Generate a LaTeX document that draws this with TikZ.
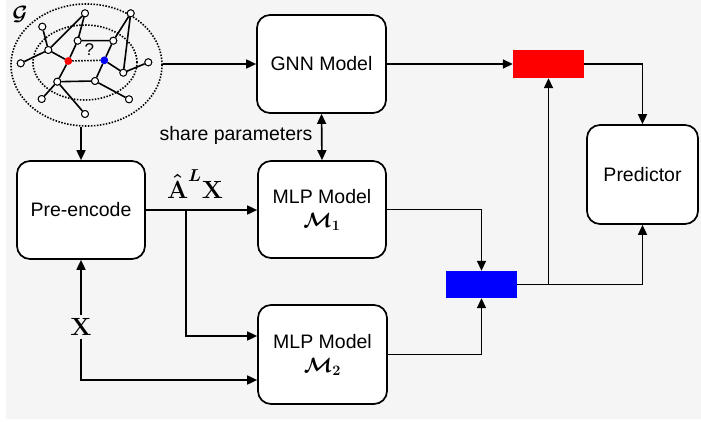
\documentclass[tikz,border=0pt]{standalone}
\usepackage{amsmath}
\usepackage{bm}
\usepackage[no-math]{fontspec}
\setmainfont{Liberation Sans}
\usetikzlibrary{arrows.meta,calc,shapes.geometric}
\definecolor{bg}{HTML}{F5F5F5}
\definecolor{myred}{HTML}{FF0000}
\definecolor{myblue}{HTML}{0000FF}
\begin{document}
\begin{tikzpicture}[x=1pt,y=-1pt,
  box/.style={draw=black, line width=1.7pt, fill=white, rounded corners=13pt, inner sep=0pt, align=center, font=\fontsize{19.5}{24}\selectfont},
  conn/.style={line width=1.7pt, -{Triangle[length=10pt,width=9pt]}},
  dconn/.style={line width=1.7pt, {Triangle[length=10pt,width=9pt]}-{Triangle[length=10pt,width=9pt]}},
  gedge/.style={line width=1.6pt},
  gv/.style={circle, draw=black, line width=0.9pt, fill=white, inner sep=0pt, minimum size=7pt},
  gc/.style={circle, draw=none, inner sep=0pt, minimum size=7.5pt},
  dots/.style={line width=1.6pt, dash pattern=on 1.5pt off 1.5pt},
  mathlbl/.style={font=\fontsize{23}{26}\selectfont},
  txt/.style={font=\fontsize{19.5}{24}\selectfont}]
\useasboundingbox (0,0) rectangle (701,422);
\fill[bg] (6,0) rectangle (701,419);

% graph
\node[ellipse, draw=black, dots, minimum width=151pt, minimum height=122pt, inner sep=0pt] (gouter) at (86.5,65) {};
\draw[dots] (85,62.5) ellipse [x radius=52pt, y radius=37.5pt];
\node[gc, fill=myred] (vr) at (68.3,61) {};
\node[gc, fill=myblue] (vb) at (104.3,60.3) {};
\node[gv] (a) at (77.7,40.7) {};
\node[gv] (b) at (113.3,40.7) {};
\node[gv] (t1) at (85,13.3) {};
\node[gv] (t2) at (130.7,13.3) {};
\node[gv] (h) at (48.3,50) {};
\node[gv] (l1) at (42.3,26.7) {};
\node[gv] (l2) at (20.7,63.3) {};
\node[gv] (bh) at (57.3,81.7) {};
\node[gv] (bm) at (95,81) {};
\node[gv] (r) at (123.3,72.7) {};
\node[gv] (fr) at (148.3,62.3) {};
\node[gv] (br) at (129,99.3) {};
\node[gv] (bl) at (41.7,99) {};
\node[gv] (bb) at (85,114) {};
\draw[gedge] (h) -- (l1) (h) -- (l2) (h) -- (vr) (h) -- (t1) (t1) -- (a) (a) -- (vr) (a) -- (b)
  (b) -- (t2) (b) -- (vb) (t2) -- (r) (vb) -- (r) (r) -- (fr) (vr) -- (bh) (bh) -- (bm)
  (bm) -- (vb) (bm) -- (br) (bh) -- (bl) (bh) -- (bb);
\draw[dots] (vr) -- (vb);
\foreach \x/\y in {77.7/40.7, 113.3/40.7, 85/13.3, 130.7/13.3, 48.3/50, 42.3/26.7, 20.7/63.3, 57.3/81.7, 95/81, 123.3/72.7, 148.3/62.3, 129/99.3, 41.7/99, 85/114}
  \node[gv] at (\x,\y) {};
\node[gc, fill=myred] at (68.3,61) {};
\node[gc, fill=myblue] at (104.3,60.3) {};
\node[font=\fontsize{17}{20}\selectfont] (q) at (89.3,50) {?};
\node[font=\fontsize{21}{24}\selectfont] (glbl) at (20,14) {$\bm{\mathcal{G}}$};

% boxes
\node[box, minimum width=129pt, minimum height=98pt] (gnn) at (321.5,64) {GNN Model};
\node[box, minimum width=128pt, minimum height=97pt] (mlp1) at (322,209.5) {MLP Model\\{\fontsize{22}{24}\selectfont$\bm{\mathcal{M}_{\mathbf{1}}}$}};
\node[box, minimum width=129pt, minimum height=99pt] (mlp2) at (322.5,354.5) {MLP Model\\{\fontsize{22}{24}\selectfont$\bm{\mathcal{M}_{\mathbf{2}}}$}};
\node[box, minimum width=128pt, minimum height=98pt] (pre) at (81,210) {Pre-encode};
\node[box, minimum width=111pt, minimum height=99pt] (pred) at (642.5,174.5) {Predictor};
\node[fill=myred, minimum width=71pt, minimum height=28pt, inner sep=0pt] (red) at (548.5,64) {};
\node[fill=myblue, minimum width=71pt, minimum height=27pt, inner sep=0pt] (blue) at (481.5,284.5) {};

% labels
\node[txt] (share) at (236,135) {share parameters};
\node[mathlbl, anchor=base] (ahat) at (195,198) {$\bm{\hat{\mathbf{A}}^{L}\mathbf{X}}$};

% connectors
\draw[conn] (gouter.east |- gnn.west) -- (gnn.west);
\draw[conn] (gnn.east) -- (red.west);
\draw[conn] (red.east) -| (pred.north);
\draw[conn] (gouter.south -| pre.north) -- (pre.north);
\draw[dconn] (gnn.south) -- (mlp1.north);
\draw[conn] (pre.east) -- (pre.east -| mlp1.west);
\coordinate (brc) at (186,210);
\draw[conn] (brc) |- ($(mlp2.west)+(0,-18.5)$);
\draw[dconn] ($(mlp2.west)+(0,25.5)$) -| (pre.south);
\draw[conn] (mlp1.east) -| (blue.north);
\draw[conn] (mlp2.east) -| (blue.south);
\draw[conn] (blue.east) -| (pred.south);
\draw[conn] (blue.east -| red.south) -- (red.south);
\node[mathlbl, fill=bg, inner sep=3pt] (xlbl) at (81,327) {$\bm{\mathbf{X}}$};
\end{tikzpicture}
\end{document}
